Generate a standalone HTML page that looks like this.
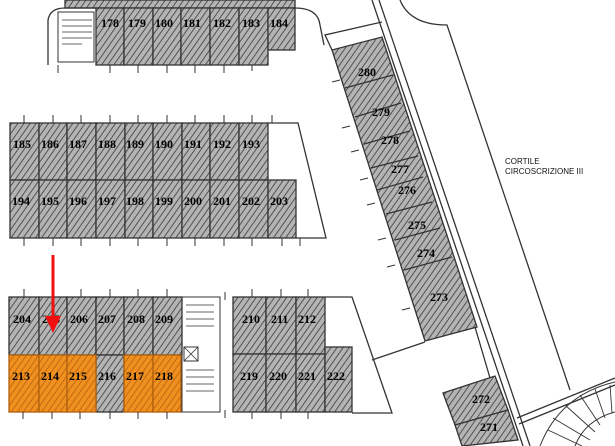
<!DOCTYPE html>
<html><head><meta charset="utf-8"><style>
html,body{margin:0;padding:0;background:#fff;width:615px;height:446px;overflow:hidden}
svg{display:block}
text{font-family:"Liberation Serif",serif;font-weight:bold;font-size:12px;fill:#000}
.s{font-family:"Liberation Sans",sans-serif;font-weight:normal;font-size:8px;fill:#111}
</style></head><body>
<svg width="615" height="446" viewBox="0 0 615 446" xmlns="http://www.w3.org/2000/svg">
<defs>
<pattern id="h" width="5" height="5" patternUnits="userSpaceOnUse" patternTransform="rotate(35)">
<rect width="5" height="5" fill="#b4b4b4"/><line x1="0" y1="0" x2="0" y2="5" stroke="#3a3a3a" stroke-width="1.6"/></pattern>
<pattern id="o" width="5" height="5" patternUnits="userSpaceOnUse" patternTransform="rotate(35)">
<rect width="5" height="5" fill="#f0901e"/><line x1="0" y1="0" x2="0" y2="5" stroke="#b05a10" stroke-width="1.4"/></pattern>
</defs>
<g stroke="#333" stroke-width="1.3" fill="none">
<rect x="65" y="0" width="230" height="8" fill="url(#h)"/>
<path d="M48,65 L48,20 Q50,8 65,8 L96,8"/>
<rect x="58" y="12" width="36" height="50" stroke-width="1"/>
<path d="M62,20 H92 M62,26 H92 M62,32 H92 M62,38 H92 M62,44 H82" stroke-width="0.8"/>
<path d="M295,8 Q318,8 320,25 L324,45"/>
<g fill="url(#h)">
<rect x="96" y="8" width="28" height="57"/><rect x="124" y="8" width="29" height="57"/>
<rect x="153" y="8" width="28" height="57"/><rect x="181" y="8" width="29" height="57"/>
<rect x="210" y="8" width="29" height="57"/><rect x="239" y="8" width="29" height="57"/>
<rect x="268" y="8" width="27" height="42"/>
</g>
<g fill="url(#h)">
<rect x="10" y="123" width="29" height="57"/><rect x="39" y="123" width="28" height="57"/><rect x="67" y="123" width="29" height="57"/><rect x="96" y="123" width="29" height="57"/><rect x="125" y="123" width="28" height="57"/><rect x="153" y="123" width="29" height="57"/><rect x="182" y="123" width="28" height="57"/><rect x="210" y="123" width="29" height="57"/><rect x="239" y="123" width="29" height="57"/>
<rect x="10" y="180" width="29" height="58"/><rect x="39" y="180" width="28" height="58"/><rect x="67" y="180" width="29" height="58"/><rect x="96" y="180" width="29" height="58"/><rect x="125" y="180" width="28" height="58"/><rect x="153" y="180" width="29" height="58"/><rect x="182" y="180" width="28" height="58"/><rect x="210" y="180" width="29" height="58"/><rect x="239" y="180" width="29" height="58"/><rect x="268" y="180" width="28" height="58"/>
</g>
<path d="M268,123 H298 L326,238 H296"/>
<g fill="url(#h)">
<rect x="9" y="297" width="30" height="58"/><rect x="39" y="297" width="28" height="58"/><rect x="67" y="297" width="29" height="58"/><rect x="96" y="297" width="28" height="58"/><rect x="124" y="297" width="29" height="58"/><rect x="153" y="297" width="29" height="58"/>
<rect x="96" y="355" width="28" height="57"/>
<rect x="233" y="297" width="33" height="57"/><rect x="266" y="297" width="30" height="57"/><rect x="296" y="297" width="29" height="57"/>
<rect x="233" y="354" width="33" height="58"/><rect x="266" y="354" width="30" height="58"/><rect x="296" y="354" width="29" height="58"/><rect x="325" y="347" width="27" height="65"/>
</g>
<g fill="url(#o)" stroke="#b06010">
<rect x="9" y="355" width="30" height="57"/><rect x="39" y="355" width="28" height="57"/><rect x="67" y="355" width="29" height="57"/>
<rect x="124" y="355" width="29" height="57"/><rect x="153" y="355" width="28" height="57"/>
</g>
<rect x="182" y="297" width="38" height="115" stroke-width="1"/>
<path d="M186,305 H214 M186,312 H214 M186,319 H214 M186,326 H214 M186,370 H214 M186,377 H214 M186,384 H214 M186,391 H214" stroke-width="0.8"/>
<rect x="184" y="347" width="14" height="14" stroke-width="1"/><path d="M184,347 L198,361 M198,347 L184,361" stroke-width="0.8"/>
<path d="M325,297 H352 L392,413 H352"/>
<path d="M372,360 L425,342"/>
<!-- ticks -->
<path stroke-width="1" d="M110,65 v8 M138,65 v8 M167,65 v8 M195,65 v8 M224,65 v8 M252,65 v6 M58,65 v8
M24,123 v-8 M53,123 v-8 M81,123 v-8 M110,123 v-8 M138,123 v-8 M167,123 v-8 M195,123 v-8 M224,123 v-8 M252,123 v-8 M272,123 v-8
M24,238 v8 M53,238 v8 M81,238 v8 M110,238 v8 M138,238 v8 M167,238 v8 M195,238 v8 M224,238 v8 M252,238 v8 M282,238 v8 M300,238 v8
M24,297 v-8 M81,297 v-8 M110,297 v-8 M138,297 v-8 M167,297 v-8 M252,297 v-8 M281,297 v-8 M308,297 v-8
M23,412 v7 M52,412 v7 M80,412 v7 M110,412 v7 M138,412 v7 M167,412 v7 M252,412 v7 M281,412 v7 M308,412 v7 M225,292 v8 M225,410 v8"/>
<polygon points="332,50 382,37 477,327 425,341" fill="url(#h)"/>
<path d="M345,88 L393,75 M355,117 L401,103 M364,144 L410,131 M371,168 L418,156 M377,190 L423,177 M386,214 L432,202 M395,240 L440,228 M404,270 L452,257"/>
<path stroke-width="1" d="M340,80 l-8,2 M350,126 l-8,2 M359,150 l-8,2 M368,178 l-8,2 M375,203 l-8,2 M386,238 l-8,2 M395,265 l-8,2 M410,308 l-8,2"/>
<path d="M332,50 L325,35 L382,22"/>
<path d="M372,0 L523,446 M379,0 L530,446"/>
<path d="M400,0 Q410,25 447,25 L570,390"/>
<path d="M475,327 L490,378"/>
<polygon points="443,393 495,376 508,410 455,425" fill="url(#h)"/>
<polygon points="455,425 508,410 518,440 462,446" fill="url(#h)"/>
<path d="M517,418 L615,378 M519,424 L615,385"/>
<path d="M540,446 Q560,395 615,382 M575,446 Q585,420 615,412" stroke-width="1"/>
<path d="M553,418 L590,440 M565,405 L595,432 M580,395 L600,425 M595,389 L605,418 M610,385 L612,413 M548,430 L582,446" stroke-width="0.9"/>
</g>
<g>
<text x="101" y="27">178</text><text x="128" y="27">179</text><text x="155" y="27">180</text><text x="183" y="27">181</text><text x="213" y="27">182</text><text x="242" y="27">183</text><text x="270" y="27">184</text>
<text x="13" y="148">185</text><text x="41" y="148">186</text><text x="69" y="148">187</text><text x="98" y="148">188</text><text x="126" y="148">189</text><text x="155" y="148">190</text><text x="184" y="148">191</text><text x="213" y="148">192</text><text x="242" y="148">193</text>
<text x="12" y="205">194</text><text x="41" y="205">195</text><text x="69" y="205">196</text><text x="98" y="205">197</text><text x="126" y="205">198</text><text x="155" y="205">199</text><text x="184" y="205">200</text><text x="213" y="205">201</text><text x="242" y="205">202</text><text x="270" y="205">203</text>
<text x="13" y="323">204</text><text x="42" y="323">205</text><text x="70" y="323">206</text><text x="98" y="323">207</text><text x="127" y="323">208</text><text x="155" y="323">209</text>
<text x="12" y="380">213</text><text x="41" y="380">214</text><text x="69" y="380">215</text><text x="98" y="380">216</text><text x="126" y="380">217</text><text x="155" y="380">218</text>
<text x="242" y="323">210</text><text x="271" y="323">211</text><text x="298" y="323">212</text>
<text x="240" y="380">219</text><text x="269" y="380">220</text><text x="298" y="380">221</text><text x="327" y="380">222</text>
<text x="358" y="76">280</text><text x="372" y="116">279</text><text x="381" y="144">278</text><text x="391" y="173">277</text><text x="398" y="194">276</text><text x="408" y="229">275</text><text x="417" y="257">274</text><text x="430" y="301">273</text>
<text x="472" y="403">272</text><text x="480" y="431">271</text>
<text class="s" x="505" y="164">CORTILE</text><text class="s" x="505" y="174">CIRCOSCRIZIONE III</text>
</g>
<line x1="53" y1="255" x2="53" y2="318" stroke="#f01010" stroke-width="3"/>
<polygon points="45,316 61,316 53,333" fill="#f01010"/>
</svg>
</body></html>
